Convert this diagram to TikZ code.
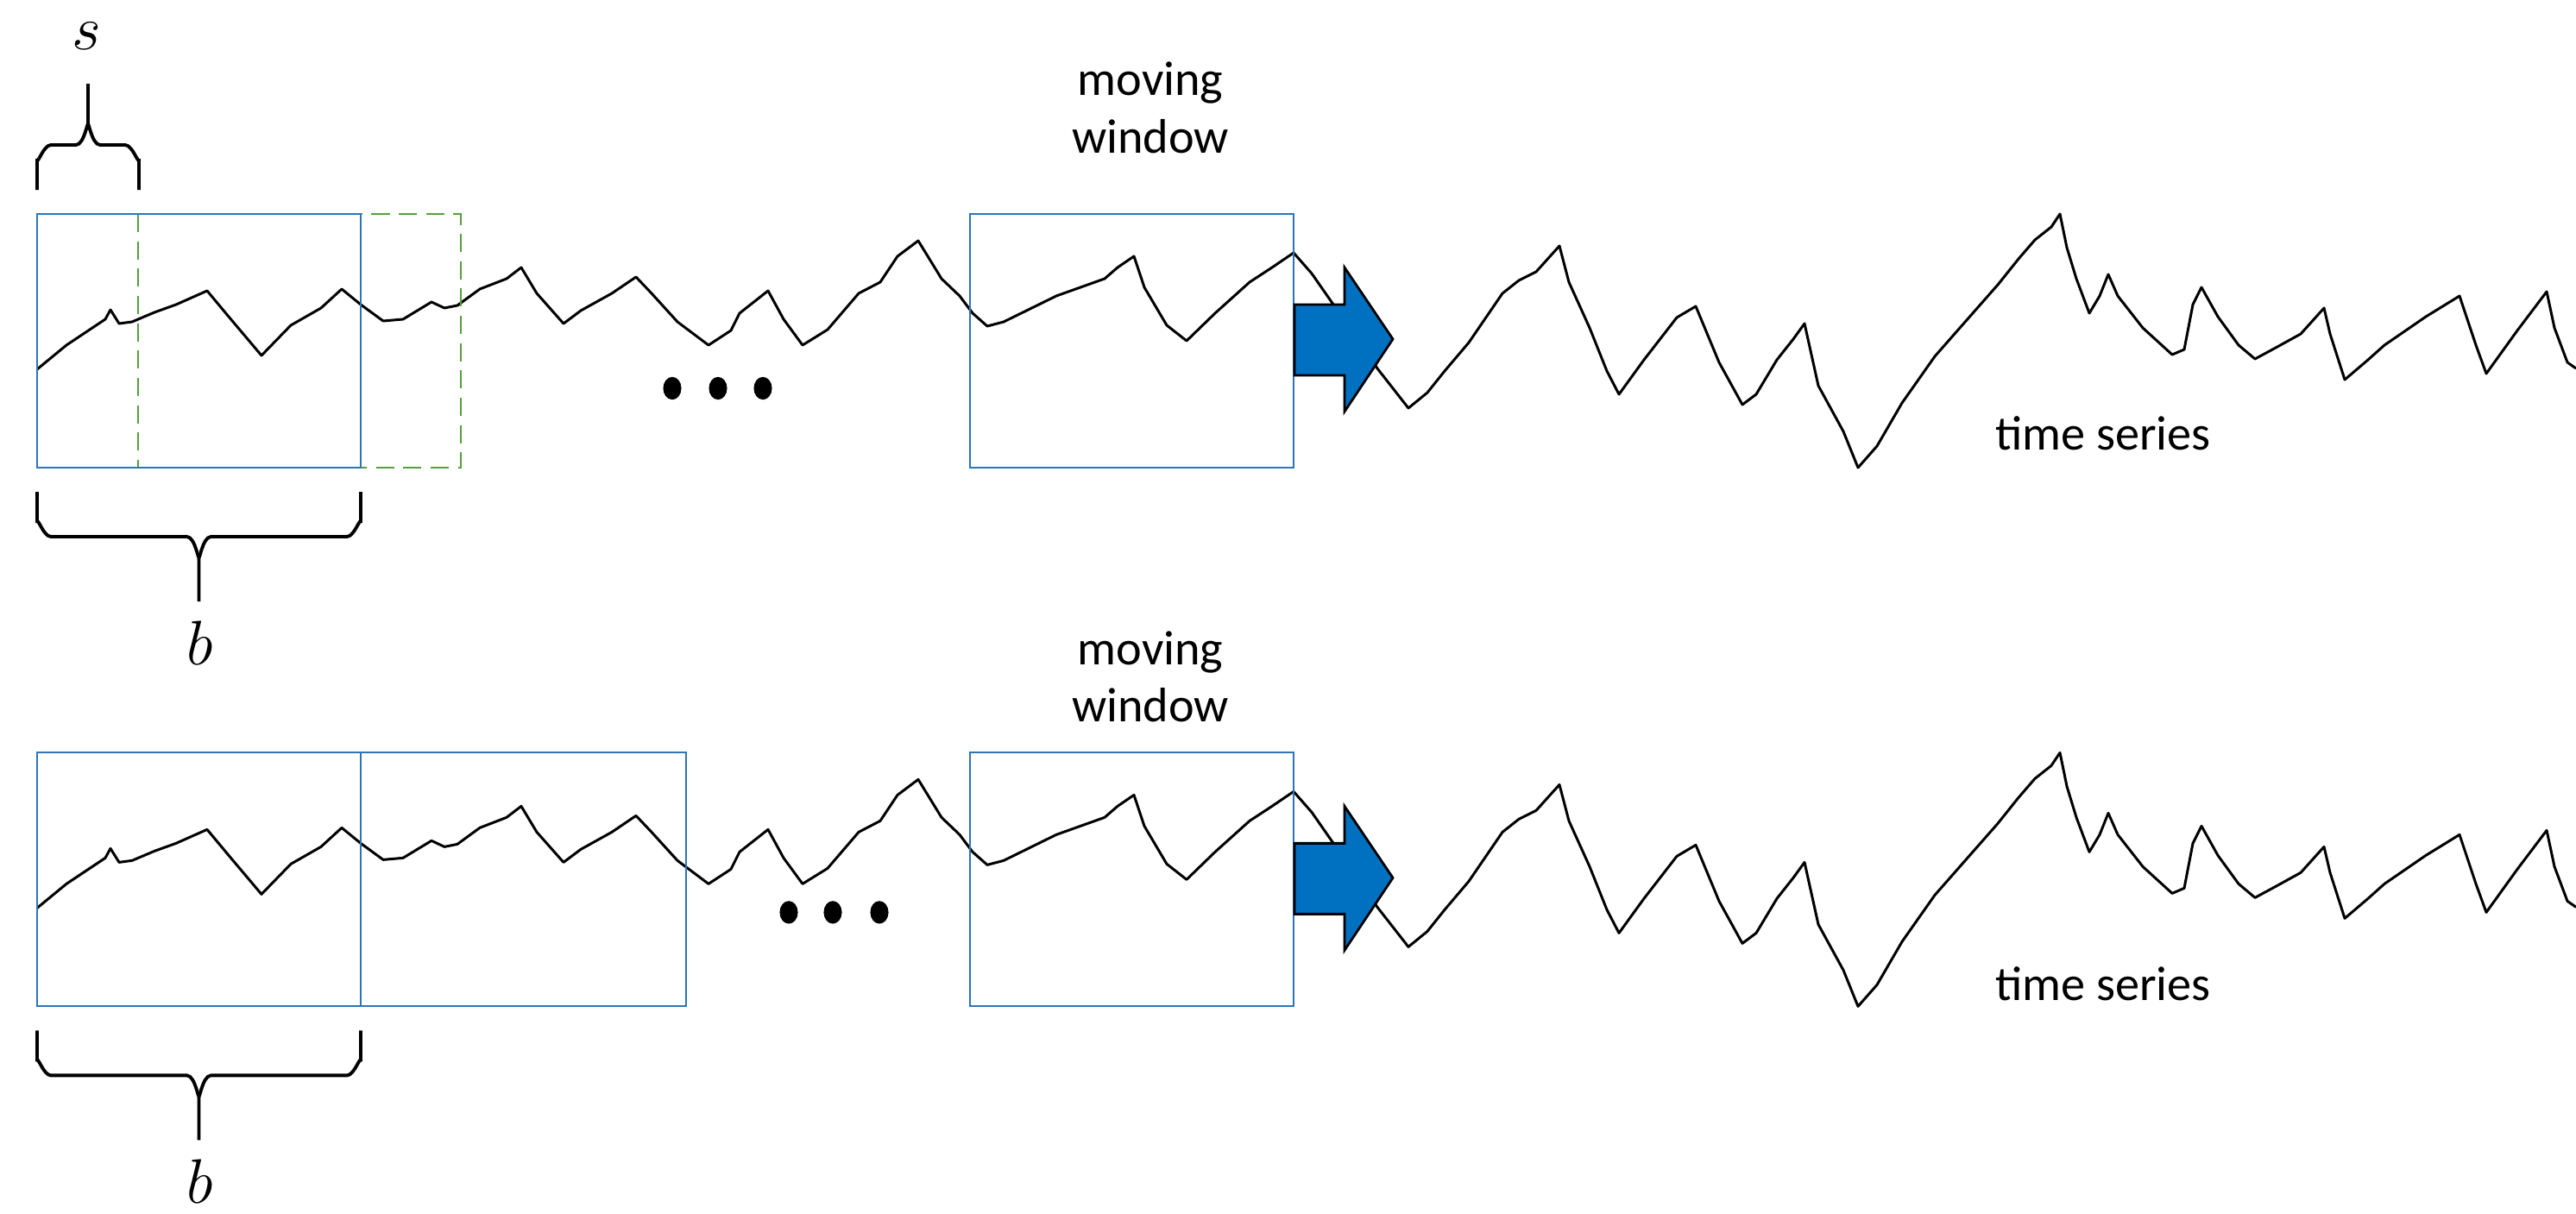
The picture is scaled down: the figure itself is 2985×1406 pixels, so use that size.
\documentclass[tikz,border=0pt]{standalone}
\usepackage{fontspec}
\setmainfont{Carlito}
\usetikzlibrary{shapes.geometric}
\definecolor{wblue}{RGB}{46,117,182}
\definecolor{afill}{RGB}{0,112,192}
\definecolor{wgreen}{RGB}{84,160,60}
% brace: x1, x2, y of ends, y of bar, y of tip
\newcommand\wbrace[5]{%
  \pgfmathsetmacro\bxm{(#1+#2)/2}%
  \pgfmathsetmacro\bs{(#4-#3)>0 ? 1 : -1}%
  \draw[br] (#1,#3) -- (#1,#4-\bs*16) to[out=\bs*90,in=180] (#1+16,#4) -- (\bxm-14,#4)
     to[out=0,in=-\bs*90] (\bxm,#4+\bs*22) -- (\bxm,#5);
  \draw[br] (#2,#3) -- (#2,#4-\bs*16) to[out=\bs*90,in=0] (#2-16,#4) -- (\bxm+14,#4)
     to[out=180,in=-\bs*90] (\bxm,#4+\bs*22);}
\begin{document}
\begin{tikzpicture}[x=0.01cm,y=-0.01cm,
  win/.style={draw=wblue,line width=0.6pt},
  gwin/.style={draw=wgreen,line width=0.6pt,dash pattern=on 6pt off 3pt},
  ser/.style={line width=0.85pt,line join=round},
  lbl/.style={font=\fontsize{16}{19}\selectfont,align=center},
  var/.style={font=\fontsize{20}{24}\selectfont},
  br/.style={line width=1.1pt},
  dot/.style={fill=black,ellipse,inner sep=0pt,minimum width=6pt,minimum height=7.5pt},
  arr/.style={fill=afill,draw=black,line width=0.8pt}]
\useasboundingbox (0,0) rectangle (2985,1406);
\def\series{(43,428) -- (77,400) -- (122,370) -- (128,359) -- (138,375) -- (153,373) -- (179,362) -- (204,353) -- (240,337) -- (265,367) -- (303,412) -- (337,377) -- (372,357) -- (396,335) -- (418,353) -- (444,372) -- (467,370) -- (500,350) -- (515,357) -- (530,354) -- (556,335) -- (587,323) -- (604,310) -- (622,340) -- (653,375) -- (673,360) -- (709,340) -- (737,321) -- (755,340) -- (785,373) -- (821,400) -- (847,383) -- (857,363) -- (890,337) -- (908,370) -- (930,400) -- (959,382) -- (995,340) -- (1020,327) -- (1040,297) -- (1064,279) -- (1091,323) -- (1112,343) -- (1127,363) -- (1144,378) -- (1163,373) -- (1224,343) -- (1280,323) -- (1295,310) -- (1314,297) -- (1326,333) -- (1352,377) -- (1375,395) -- (1408,363) -- (1448,327) -- (1474,310) -- (1499,293) -- (1520,317) -- (1543,350) -- (1596,427) -- (1632,473) -- (1654,455) -- (1674,430) -- (1702,397) -- (1741,340) -- (1760,325) -- (1780,315) -- (1807,285) -- (1818,327) -- (1842,380) -- (1862,430) -- (1876,457) -- (1905,417) -- (1943,368) -- (1965,355) -- (1992,420) -- (2019,469) -- (2035,457) -- (2059,417) -- (2078,393) -- (2091,375) -- (2107,447) -- (2136,500) -- (2153,542) -- (2175,517) -- (2204,467) -- (2242,413) -- (2271,380) -- (2315,330) -- (2339,300) -- (2358,278) -- (2377,263) -- (2387,248) -- (2395,287) -- (2406,323) -- (2421,363) -- (2433,343) -- (2443,318) -- (2454,343) -- (2483,380) -- (2517,411) -- (2531,405) -- (2541,353) -- (2551,333) -- (2570,367) -- (2594,400) -- (2613,416) -- (2637,403) -- (2666,387) -- (2693,357) -- (2700,387) -- (2717,440) -- (2744,417) -- (2763,400) -- (2811,367) -- (2850,343) -- (2869,400) -- (2881,433) -- (2917,383) -- (2951,338) -- (2960,380) -- (2975,420) -- (2985,427)}
\def\arrowshape{(1500,353) -- (1558,353) -- (1558,310) -- (1614,393) -- (1558,477) -- (1558,435) -- (1500,435) -- cycle}
% ---- top row ----
\draw[ser] \series;
\draw[gwin] (160,248) rectangle (534,542);
\draw[win] (43,248) rectangle (418,542);
\draw[win] (1124,248) rectangle (1499,542);
\draw[arr] \arrowshape;
\node[dot] (d1) at (779,450) {};
\node[dot] (d2) at (832,450) {};
\node[dot] (d3) at (884,450) {};
\wbrace{43}{161}{220}{168}{97}
\node[var] (s) at (100,42) {$s$};
\wbrace{43}{418}{570}{622}{697}
\node[var] (b1) at (232,745) {$b$};
\node[lbl] (mw1) at (1333,125) {moving\\window};
\node[lbl] (ts1) at (2437,502) {time series};
% ---- bottom row ----
\begin{scope}[yshift=-6.24cm]
\draw[ser] \series;
\draw[win] (43,248) rectangle (418,542);
\draw[win] (418,248) rectangle (795,542);
\draw[win] (1124,248) rectangle (1499,542);
\draw[arr] \arrowshape;
\node[dot] (e1) at (914,433) {};
\node[dot] (e2) at (965,433) {};
\node[dot] (e3) at (1019,433) {};
\wbrace{43}{418}{570}{622}{697}
\node[var] (b2) at (232,745) {$b$};
\node[lbl] (mw2) at (1333,160) {moving\\window};
\node[lbl] (ts2) at (2437,516) {time series};
\end{scope}
\end{tikzpicture}
\end{document}
